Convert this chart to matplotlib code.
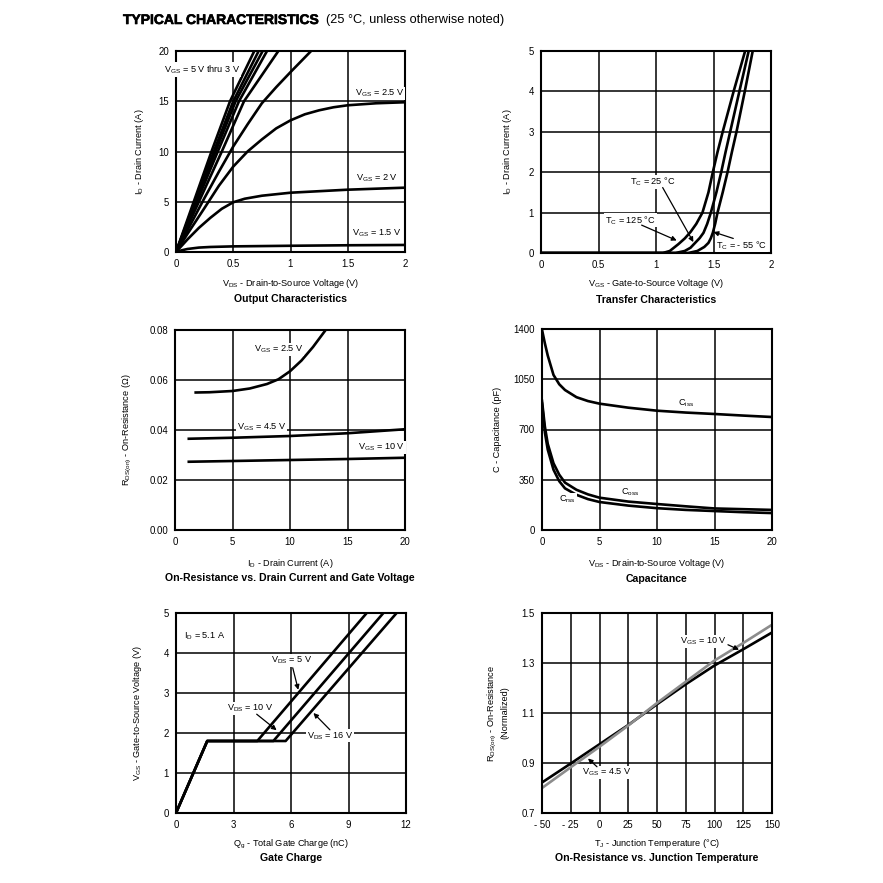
import matplotlib
matplotlib.use("Agg")
import matplotlib.pyplot as plt
import matplotlib.patheffects as pe

plt.rcParams['font.family'] = ['Liberation Sans', 'DejaVu Sans']
plt.rcParams['mathtext.fontset'] = 'custom'
plt.rcParams['mathtext.rm'] = 'Liberation Sans'
plt.rcParams['mathtext.it'] = 'Liberation Sans'
plt.rcParams['mathtext.default'] = 'rm'

# ---------------- data ----------------
# Output characteristics (VDS in V, ID in A)
oc_steep_id = [0, 10, 15, 20]
oc_5v = [0, 0.31, 0.472, 0.684]
oc_45v = [0, 0.33, 0.50, 0.722]
oc_4v = [0, 0.345, 0.521, 0.757]
oc_35v = [0, 0.365, 0.55, 0.795]
oc_3v = [0, 0.40, 0.594, 0.894]
oc_mid_vds = [0, 0.125, 0.25, 0.375, 0.5, 0.625, 0.75, 0.875, 1.0, 1.18]
oc_mid_id = [0, 2.7, 5.4, 8.0, 10.5, 12.7, 14.8, 16.4, 17.9, 20.0]
oc_25_vds = [0, 0.1, 0.25, 0.375, 0.5, 0.625, 0.75, 0.875, 1.0, 1.125, 1.25, 1.375, 1.5, 1.75, 2.0]
oc_25_id = [0, 1.8, 4.4, 6.6, 8.5, 10.0, 11.2, 12.3, 13.1, 13.7, 14.1, 14.4, 14.6, 14.8, 14.9]
oc_2_vds = [0, 0.1, 0.2, 0.3, 0.4, 0.5, 0.6, 0.75, 1.0, 1.25, 1.5, 2.0]
oc_2_id = [0, 1.25, 2.4, 3.4, 4.3, 4.95, 5.3, 5.6, 5.9, 6.05, 6.2, 6.4]
oc_15_vds = [0, 0.05, 0.1, 0.2, 0.3, 0.5, 1.0, 1.5, 2.0]
oc_15_id = [0, 0.17, 0.3, 0.44, 0.5, 0.56, 0.62, 0.67, 0.7]

# Transfer characteristics
tr_125_vgs = [0, 1.06, 1.12, 1.195, 1.25, 1.30, 1.35, 1.404, 1.456, 1.494, 1.535, 1.58, 1.675, 1.775]
tr_125_id = [0, 0, 0.05, 0.22, 0.36, 0.52, 0.72, 1.0, 1.5, 2.0, 2.5, 3.0, 4.0, 5.0]
tr_25_vgs = [0, 1.17, 1.25, 1.30, 1.34, 1.38, 1.413, 1.445, 1.477, 1.525, 1.567, 1.605, 1.645, 1.725, 1.806]
tr_25_id = [0, 0, 0.05, 0.13, 0.25, 0.37, 0.5, 0.72, 1.0, 1.5, 2.0, 2.5, 3.0, 4.0, 5.0]
tr_m55_vgs = [0, 1.28, 1.36, 1.42, 1.456, 1.476, 1.494, 1.515, 1.535, 1.58, 1.622, 1.66, 1.70, 1.772, 1.841]
tr_m55_id = [0, 0, 0.05, 0.15, 0.25, 0.36, 0.5, 0.73, 1.0, 1.5, 2.0, 2.5, 3.0, 4.0, 5.0]

# On-resistance vs drain current
ron_25_id = [1.8, 3, 5, 6.5, 8, 9, 10, 11, 12, 13.1]
ron_25_r = [0.0550, 0.0551, 0.0556, 0.0566, 0.0584, 0.0603, 0.0635, 0.0678, 0.0732, 0.0800]
ron_45_id = [1.2, 5, 10, 15, 20]
ron_45_r = [0.0365, 0.0369, 0.0376, 0.0387, 0.0403]
ron_10_id = [1.2, 5, 10, 15, 20]
ron_10_r = [0.0273, 0.0276, 0.0280, 0.0284, 0.0289]

# Capacitance
cap_vds = [0, 0.25, 0.5, 1, 1.5, 2, 3, 4, 5, 7.5, 10, 12.5, 15, 17.5, 20]
cap_ciss = [1395, 1300, 1215, 1080, 1015, 975, 925, 898, 880, 852, 831, 818, 808, 797, 787]
cap_coss = [900, 720, 600, 465, 385, 330, 280, 248, 225, 198, 181, 165, 150, 145, 140]
cap_crss = [880, 680, 560, 420, 340, 290, 245, 215, 195, 170, 152, 140, 132, 124, 118]

# Gate charge
gc_vgs = [0, 1.8, 1.8, 5]
gc_q_5v = [0, 1.63, 4.24, 9.95]
gc_q_10v = [0, 1.63, 5.08, 10.82]
gc_q_16v = [0, 1.63, 5.72, 11.51]

# On-resistance vs junction temperature
tj = [-50, -25, 0, 25, 50, 75, 100, 125, 150]
rn_black = [0.822, 0.898, 0.975, 1.052, 1.135, 1.215, 1.29, 1.355, 1.422]
rn_gray = [0.800, 0.883, 0.965, 1.050, 1.140, 1.225, 1.31, 1.38, 1.453]

# ---------------- layout ----------------
W = 883.0
fig = plt.figure(figsize=(8.83, 8.83), dpi=100)


def make_ax(l, t, r, b):
    return fig.add_axes([l / W, 1 - b / W, (r - l) / W, (b - t) / W])


FS = 6.6
LW = 1.9
BBOX = dict(boxstyle='square,pad=0.1', fc='white', ec='none')


def style(ax, xlim, ylim, xticks, yticks, xtl, ytl, xlabel, ylabel, title,
          ylab_off, xlab_off=31, title_off=47):
    ax.set_xlim(*xlim)
    ax.set_ylim(*ylim)
    ax.set_xticks(xticks)
    ax.set_yticks(yticks)
    ax.set_xticklabels(xtl)
    ax.set_yticklabels(ytl)
    ax.tick_params(length=0, labelsize=FS + 0.3, pad=5)
    ax.grid(True, color='black', lw=1.1)
    ax.set_axisbelow(True)
    for s in ax.spines.values():
        s.set_linewidth(1.5)
    ax.annotate(xlabel, xy=(0.5, 0), xycoords='axes fraction',
                xytext=(0, -xlab_off * 0.72), textcoords='offset points',
                ha='center', va='center', fontsize=FS)
    ax.annotate(title, xy=(0.5, 0), xycoords='axes fraction',
                xytext=(0, -title_off * 0.72), textcoords='offset points',
                ha='center', va='center', fontsize=FS + 1, fontweight='bold')
    ax.annotate(ylabel, xy=(0, 0.5), xycoords='axes fraction',
                xytext=(-ylab_off * 0.72, 0), textcoords='offset points',
                ha='center', va='center', fontsize=FS, rotation=90,
                multialignment='center')


def lab(ax, x, y, s, **kw):
    ax.text(x, y, s, ha='center', va='center', fontsize=FS, bbox=BBOX, zorder=5, **kw)


def arrow(ax, x0, y0, x1, y1):
    ax.annotate('', xy=(x1, y1), xytext=(x0, y0),
                arrowprops=dict(arrowstyle='-|>', color='black', lw=0.9,
                                mutation_scale=7, shrinkA=0, shrinkB=0), zorder=6)


# Title
fig.text(123 / W, 1 - 20 / W, 'TYPICAL CHARACTERISTICS', fontsize=10.0,
         fontweight='bold', ha='left', va='center',
         path_effects=[pe.withStroke(linewidth=0.45, foreground='black')])
fig.text(326 / W, 1 - 20 / W, '(25 °C, unless otherwise noted)', fontsize=9.2,
         ha='left', va='center')

# ---- Output characteristics ----
ax1 = make_ax(176, 51, 405, 252)
for xs in (oc_5v, oc_45v, oc_4v, oc_35v, oc_3v):
    ax1.plot(xs, oc_steep_id, color='black', lw=LW, solid_capstyle='butt')
ax1.plot(oc_mid_vds, oc_mid_id, color='black', lw=LW)
ax1.plot(oc_25_vds, oc_25_id, color='black', lw=LW)
ax1.plot(oc_2_vds, oc_2_id, color='black', lw=LW)
ax1.plot(oc_15_vds, oc_15_id, color='black', lw=LW)
ax1.text(0.227, 18.17, r'V$_{GS}$ = 5 V thru 3 V', ha='center', va='center',
         fontsize=FS, bbox=BBOX, zorder=5, clip_on=False)
lab(ax1, 1.78, 15.75, r'V$_{GS}$ = 2.5 V')
lab(ax1, 1.75, 7.31, r'V$_{GS}$ = 2 V')
lab(ax1, 1.756, 1.89, r'V$_{GS}$ = 1.5 V')
style(ax1, (0, 2), (0, 20), [0, 0.5, 1, 1.5, 2], [0, 5, 10, 15, 20],
      ['0', '0.5', '1', '1.5', '2'], ['0', '5', '10', '15', '20'],
      r'V$_{DS}$ - Drain-to-Source Voltage (V)', r'I$_D$ - Drain Current (A)',
      'Output Characteristics', ylab_off=36)

# ---- Transfer characteristics ----
ax2 = make_ax(541, 51, 771, 253)
ax2.plot(tr_125_vgs, tr_125_id, color='black', lw=LW)
ax2.plot(tr_25_vgs, tr_25_id, color='black', lw=LW)
ax2.plot(tr_m55_vgs, tr_m55_id, color='black', lw=LW)
lab(ax2, 0.968, 1.76, r'T$_C$ = 25 °C')
lab(ax2, 0.777, 0.81, r'T$_C$ = 125 °C')
lab(ax2, 1.748, 0.19, r'T$_C$ = - 55 °C')
arrow(ax2, 1.058, 1.62, 1.325, 0.27)
arrow(ax2, 0.875, 0.69, 1.18, 0.31)
arrow(ax2, 1.672, 0.36, 1.50, 0.52)
style(ax2, (0, 2), (0, 5), [0, 0.5, 1, 1.5, 2], [0, 1, 2, 3, 4, 5],
      ['0', '0.5', '1', '1.5', '2'], ['0', '1', '2', '3', '4', '5'],
      r'V$_{GS}$ - Gate-to-Source Voltage (V)', r'I$_D$ - Drain Current (A)',
      'Transfer Characteristics', ylab_off=34)

# ---- On-resistance vs drain current ----
ax3 = make_ax(175, 330, 405, 530)
ax3.plot(ron_25_id, ron_25_r, color='black', lw=LW)
ax3.plot(ron_45_id, ron_45_r, color='black', lw=LW)
ax3.plot(ron_10_id, ron_10_r, color='black', lw=LW)
lab(ax3, 9.03, 0.0723, r'V$_{GS}$ = 2.5 V')
lab(ax3, 7.52, 0.0411, r'V$_{GS}$ = 4.5 V')
lab(ax3, 17.97, 0.0331, r'V$_{GS}$ = 10 V')
style(ax3, (0, 20), (0, 0.08), [0, 5, 10, 15, 20], [0, 0.02, 0.04, 0.06, 0.08],
      ['0', '5', '10', '15', '20'], ['0.00', '0.02', '0.04', '0.06', '0.08'],
      r'I$_D$ - Drain Current (A)', r'R$_{DS(on)}$ - On-Resistance (Ω)',
      'On-Resistance vs. Drain Current and Gate Voltage', ylab_off=48,
      xlab_off=33, title_off=48)

# ---- Capacitance ----
ax4 = make_ax(542, 329, 772, 530)
ax4.plot(cap_vds, cap_ciss, color='black', lw=LW)
ax4.plot(cap_vds, cap_coss, color='black', lw=LW)
ax4.plot(cap_vds, cap_crss, color='black', lw=LW)
lab(ax4, 12.5, 884, r'C$_{iss}$')
lab(ax4, 7.7, 262, r'C$_{oss}$')
lab(ax4, 2.2, 211, r'C$_{rss}$')
style(ax4, (0, 20), (0, 1400), [0, 5, 10, 15, 20], [0, 350, 700, 1050, 1400],
      ['0', '5', '10', '15', '20'], ['0', '350', '700', '1050', '1400'],
      r'V$_{DS}$ - Drain-to-Source Voltage (V)', 'C - Capacitance (pF)',
      'Capacitance', ylab_off=44, xlab_off=33, title_off=49)

# ---- Gate charge ----
ax5 = make_ax(176, 613, 406, 813)
ax5.plot(gc_q_5v, gc_vgs, color='black', lw=LW)
ax5.plot(gc_q_10v, gc_vgs, color='black', lw=LW)
ax5.plot(gc_q_16v, gc_vgs, color='black', lw=LW)
lab(ax5, 1.51, 4.44, r'I$_D$ = 5.1 A')
lab(ax5, 6.05, 3.82, r'V$_{DS}$ = 5 V')
lab(ax5, 3.86, 2.61, r'V$_{DS}$ = 10 V')
lab(ax5, 8.03, 1.93, r'V$_{DS}$ = 16 V')
arrow(ax5, 6.09, 3.63, 6.38, 3.08)
arrow(ax5, 4.21, 2.47, 5.25, 2.07)
arrow(ax5, 8.03, 2.08, 7.17, 2.5)
style(ax5, (0, 12), (0, 5), [0, 3, 6, 9, 12], [0, 1, 2, 3, 4, 5],
      ['0', '3', '6', '9', '12'], ['0', '1', '2', '3', '4', '5'],
      r'Q$_g$ - Total Gate Charge (nC)', r'V$_{GS}$ - Gate-to-Source Voltage (V)',
      'Gate Charge', ylab_off=38, xlab_off=31, title_off=45)

# ---- On-resistance vs junction temperature ----
ax6 = make_ax(542, 613, 772, 813)
ax6.plot(tj, rn_black, color='black', lw=LW)
ax6.plot(tj, rn_gray, color='#8c8c8c', lw=LW)
lab(ax6, 90.6, 1.386, r'V$_{GS}$ = 10 V')
lab(ax6, 6.2, 0.861, r'V$_{GS}$ = 4.5 V')
arrow(ax6, 111.7, 1.373, 121.3, 1.353)
arrow(ax6, -2.2, 0.885, -10, 0.918)
style(ax6, (-50, 150), (0.7, 1.5), [-50, -25, 0, 25, 50, 75, 100, 125, 150],
      [0.7, 0.9, 1.1, 1.3, 1.5],
      ['- 50', '- 25', '0', '25', '50', '75', '100', '125', '150'],
      ['0.7', '0.9', '1.1', '1.3', '1.5'],
      r'T$_J$ - Junction Temperature (°C)',
      'R$_{DS(on)}$ - On-Resistance\n(Normalized)',
      'On-Resistance vs. Junction Temperature', ylab_off=44, xlab_off=31, title_off=45)

fig.savefig('out.png', dpi=100)
